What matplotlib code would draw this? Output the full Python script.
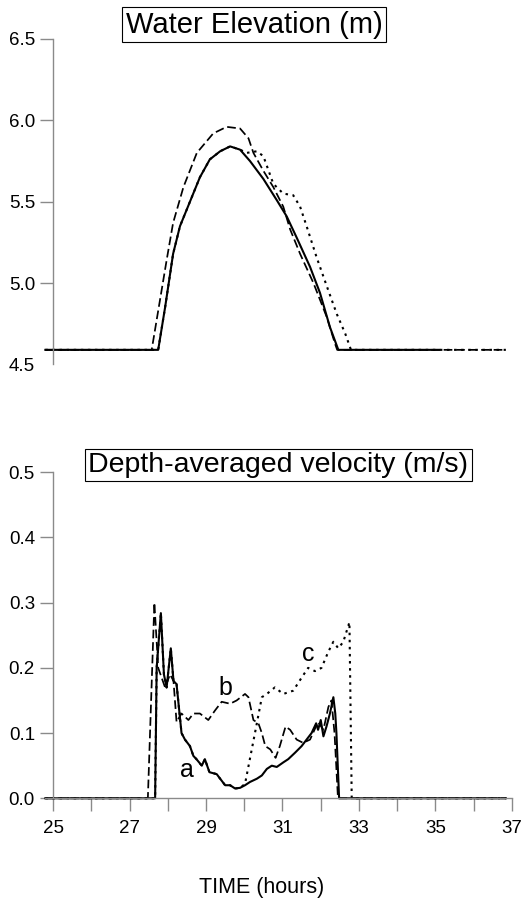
import matplotlib
matplotlib.use('Agg')
import matplotlib.pyplot as plt
from matplotlib.ticker import MultipleLocator

plt.rcParams['font.family'] = ['Liberation Sans', 'DejaVu Sans']

# ---- water elevation (m) ----
elev_a_t = [24.8, 27.75, 27.93, 28.14, 28.32, 28.58, 28.84, 29.10, 29.37, 29.63, 29.89,
            30.15, 30.50, 30.85, 31.11, 31.37, 31.72, 31.98, 32.24, 32.46, 35.1]
elev_a = [4.59, 4.59, 4.85, 5.18, 5.35, 5.50, 5.65, 5.76, 5.81, 5.84, 5.82,
          5.75, 5.64, 5.51, 5.41, 5.28, 5.10, 4.94, 4.73, 4.59, 4.59]

elev_b_t = [24.8, 27.58, 27.75, 27.97, 28.14, 28.41, 28.76, 29.19, 29.54, 29.89, 30.11,
            30.24, 30.50, 30.76, 31.02, 31.20, 31.46, 31.81, 32.16, 32.37, 32.43, 36.84]
elev_b = [4.59, 4.59, 4.83, 5.14, 5.37, 5.59, 5.80, 5.92, 5.96, 5.95, 5.89,
          5.80, 5.69, 5.59, 5.47, 5.33, 5.18, 5.00, 4.79, 4.63, 4.59, 4.59]

elev_c_t = [24.8, 27.75, 27.93, 28.14, 28.32, 28.58, 28.84, 29.10, 29.37, 29.63, 29.89,
            30.06, 30.33, 30.50, 30.76, 31.02, 31.28, 31.46, 31.63, 31.89, 32.16, 32.42,
            32.64, 32.79, 36.84]
elev_c = [4.59, 4.59, 4.85, 5.18, 5.35, 5.50, 5.65, 5.76, 5.81, 5.84, 5.82,
          5.80, 5.81, 5.78, 5.61, 5.55, 5.54, 5.47, 5.35, 5.16, 4.98, 4.81,
          4.69, 4.59, 4.59]

# ---- depth-averaged velocity (m/s) ----
vel_a_t = [24.8, 27.67, 27.71, 27.82, 27.90, 27.97, 28.08, 28.15, 28.23, 28.36, 28.45,
           28.58, 28.67, 28.75, 28.89, 28.97, 29.09, 29.28, 29.37, 29.50, 29.63, 29.76,
           29.89, 30.02, 30.15, 30.33, 30.46, 30.59, 30.72, 30.85, 31.02, 31.15, 31.33,
           31.50, 31.63, 31.76, 31.88, 31.93, 32.00, 32.07, 32.15, 32.24, 32.33, 32.38,
           32.41, 32.48, 36.84]
vel_a = [0.0, 0.0, 0.20, 0.284, 0.19, 0.17, 0.23, 0.18, 0.175, 0.10, 0.09,
         0.08, 0.065, 0.06, 0.05, 0.06, 0.04, 0.037, 0.03, 0.02, 0.02, 0.015,
         0.016, 0.02, 0.025, 0.03, 0.035, 0.045, 0.05, 0.048, 0.055, 0.06, 0.07,
         0.08, 0.09, 0.10, 0.115, 0.105, 0.12, 0.095, 0.11, 0.13, 0.155, 0.13,
         0.10, 0.0, 0.0]

vel_b_t = [24.8, 27.48, 27.65, 27.75, 27.93, 28.06, 28.15, 28.23, 28.36, 28.54, 28.67,
           28.84, 29.06, 29.24, 29.41, 29.63, 29.80, 30.02, 30.11, 30.24, 30.37, 30.46,
           30.55, 30.68, 30.82, 30.93, 31.08, 31.20, 31.37, 31.54, 31.72, 31.93, 32.07,
           32.20, 32.28, 32.36, 32.45, 36.84]
vel_b = [0.0, 0.0, 0.30, 0.20, 0.17, 0.19, 0.18, 0.117, 0.13, 0.12, 0.13,
         0.13, 0.12, 0.135, 0.148, 0.145, 0.15, 0.16, 0.155, 0.12, 0.115, 0.10,
         0.08, 0.075, 0.062, 0.08, 0.11, 0.105, 0.09, 0.085, 0.09, 0.117, 0.105,
         0.14, 0.15, 0.10, 0.0, 0.0]

vel_c_t = [24.8, 27.67, 27.71, 27.82, 27.90, 27.97, 28.08, 28.15, 28.23, 28.36, 28.45,
           28.58, 28.67, 28.75, 28.89, 28.97, 29.09, 29.28, 29.37, 29.50, 29.63, 29.76,
           29.89, 30.02, 30.28, 30.46, 30.59, 30.80, 31.02, 31.28, 31.50, 31.67, 31.85,
           32.02, 32.20, 32.33, 32.46, 32.59, 32.75, 32.81, 36.84]
vel_c = [0.0, 0.0, 0.20, 0.284, 0.19, 0.17, 0.23, 0.18, 0.175, 0.10, 0.09,
         0.08, 0.065, 0.06, 0.05, 0.06, 0.04, 0.037, 0.03, 0.02, 0.02, 0.015,
         0.016, 0.022, 0.10, 0.155, 0.16, 0.17, 0.16, 0.165, 0.185, 0.20, 0.195,
         0.20, 0.225, 0.24, 0.23, 0.24, 0.27, 0.0, 0.0]

# curve labels: (text, time, velocity)
curve_labels = [('a', 28.5, 0.043), ('b', 29.51, 0.169), ('c', 31.67, 0.222)]

time_ticks = list(range(25, 38, 2))
time_minor = list(range(26, 37, 2))

AXIS_GREY = '#8a8a8a'
solid = dict(color='black', lw=1.5, ls='-')
dashed = dict(color='black', lw=1.25, ls=(0, (5, 2.2)))
dotted = dict(color='black', lw=1.5, ls=(0, (1.2, 2.2)))


def style_axis(ax):
    for side in ('top', 'right'):
        ax.spines[side].set_visible(False)
    ax.spines['left'].set_position(('data', 25))
    ax.spines['left'].set_color(AXIS_GREY)
    ax.spines['bottom'].set_color(AXIS_GREY)
    ax.spines['left'].set_linewidth(1.0)
    ax.spines['bottom'].set_linewidth(1.0)
    ax.tick_params(which='both', colors=AXIS_GREY, labelcolor='black',
                   labelsize=13.5, length=9.5, width=1.0)
    ax.set_xlim(24.8, 37)


def boxed_title(fig, x, y, text, size):
    fig.text(x, y, text, ha='center', va='center', fontsize=size,
             bbox=dict(boxstyle='square,pad=0.12', fc='white', ec='black', lw=0.8))


fig = plt.figure(figsize=(5.22, 9.02), dpi=100)

# water elevation panel
ax1 = fig.add_axes([0.0869, 0.5959, 0.8939, 0.3609])
style_axis(ax1)
ax1.spines['bottom'].set_visible(False)
ax1.tick_params(axis='x', which='both', bottom=False, labelbottom=False)
ax1.set_ylim(4.5, 6.5)
ax1.set_yticks([4.5, 5.0, 5.5, 6.0, 6.5])
ax1.yaxis.set_major_formatter(lambda v, p: '%.1f' % v)
# bottom label has no tick mark
ax1.yaxis.get_major_ticks()[0].tick1line.set_visible(False)
ax1.plot(elev_c_t, elev_c, clip_on=False, **dotted)
ax1.plot(elev_b_t, elev_b, clip_on=False, **dashed)
ax1.plot(elev_a_t, elev_a, clip_on=False, **solid)

# velocity panel
ax2 = fig.add_axes([0.0869, 0.1150, 0.8939, 0.3614])
style_axis(ax2)
ax2.set_ylim(0, 0.5)
ax2.yaxis.set_major_locator(MultipleLocator(0.1))
ax2.yaxis.set_major_formatter(lambda v, p: '%.1f' % v)
ax2.set_xticks(time_ticks)
ax2.set_xticks(time_minor, minor=True)
ax2.set_xlim(24.8, 37)
ax2.tick_params(axis='x', pad=6)
ax2.plot(vel_c_t, vel_c, clip_on=False, **dotted)
ax2.plot(vel_b_t, vel_b, clip_on=False, **dashed)
ax2.plot(vel_a_t, vel_a, clip_on=False, **solid)
for txt, tx, ty in curve_labels:
    ax2.text(tx, ty, txt, ha='center', va='center', fontsize=18)

boxed_title(fig, 0.487, 0.9725, 'Water Elevation (m)', 21)
boxed_title(fig, 0.533, 0.4845, 'Depth-averaged velocity (m/s)', 20.5)
fig.text(0.502, 0.0165, 'TIME (hours)', ha='center', va='center', fontsize=15.5)

fig.savefig('out.png', dpi=100)
